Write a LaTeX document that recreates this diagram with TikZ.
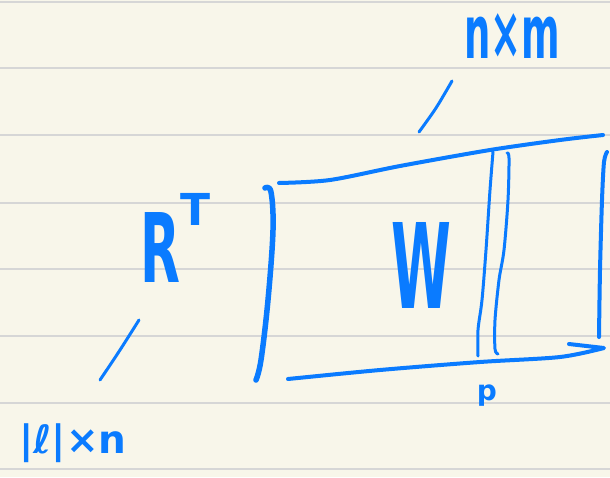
\documentclass[tikz,border=0pt]{standalone}
\usepackage{fontspec}
\setmainfont{DejaVu Sans}

\definecolor{paper}{HTML}{F8F6EA}
\definecolor{ruling}{HTML}{D6D6D6}
\definecolor{ink}{HTML}{0A7BFF}

\begin{document}
\begin{tikzpicture}[
  x=1pt, y=-1pt,
  rule/.style={draw=ruling, line width=1.6pt},
  pen/.style={draw=ink, line width=4pt, line cap=round, line join=round},
  thin pen/.style={pen, line width=3pt},
  hand/.style={text=ink, inner sep=0pt, font=\fontsize{#1}{#1}\selectfont\bfseries}
]
% paper with ruling
\fill[paper] (0,0) rectangle (610,477);
\useasboundingbox (0,0) rectangle (610,477);
\foreach \y in {2,68,135,203,269,336,403,469}
  \draw[rule] (0,\y) -- (610,\y);

% labels
\node[hand=96, anchor=base west] (rt) at (140,282)
  {\scalebox{0.54}[1]{R}\raisebox{57pt}{\fontsize{44}{44}\selectfont T}};
\node[hand=118] (wmat) at (421,265) {\scalebox{0.46}[1]{W}};
\node[hand=37] (dims) at (512,36) {\scalebox{1}[2]{n×m}};
\node[hand=39] (rows) at (73,443) {|ℓ|×n};
\node[hand=28] (pmark) at (487,396) {p};

% pointer strokes
\draw[thin pen] plot[smooth] coordinates {(419,132) (436,108) (452,81)};
\draw[thin pen] plot[smooth] coordinates {(100,380) (120,350) (139,320)};

% left bracket of the matrix
\draw[pen, line width=5.5pt] plot[smooth, tension=0.6]
  coordinates {(265,188) (271,192) (273,230) (268,300) (261,360) (256,380)};

% top and bottom edges
\draw[pen] plot[smooth]
  coordinates {(279,183) (330,180) (400,166) (490,150) (560,140) (603,135)};
\draw[pen] plot[smooth]
  coordinates {(288,379) (380,370) (480,362) (560,357) (604,348)} -- (569,344);

% column strip
\draw[thin pen] plot[smooth]
  coordinates {(493,152) (490,190) (486,250) (482,300) (478,330) (478,356)};
\draw[thin pen] plot[smooth]
  coordinates {(507,153) (509,158) (508,200) (504,250) (499,280) (495,320) (495,349) (498,354)};

% right edge
\draw[pen] plot[smooth]
  coordinates {(607,152) (604,162) (602,200) (600,270) (599,337)};
\end{tikzpicture}
\end{document}
